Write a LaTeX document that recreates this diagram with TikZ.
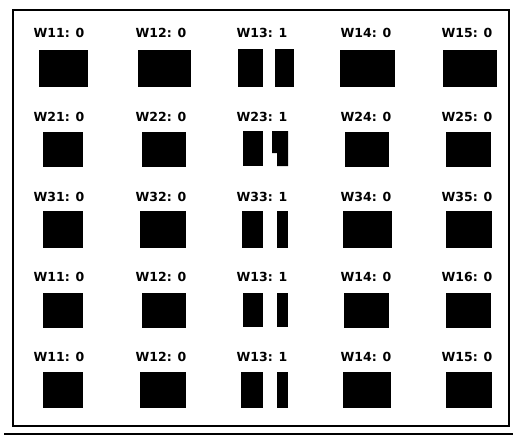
\documentclass[tikz,border=0pt]{standalone}
\usepackage{fontspec}
\setmainfont{DejaVu Sans}
\begin{document}
\begin{tikzpicture}[x=1pt,y=-1pt,
  lbl/.style={inner sep=0pt, font=\fontsize{12.5}{12.5}\selectfont\bfseries, anchor=center},
  frameline/.style={line width=1.7pt, black},
  blk/.style={fill=black}]
\useasboundingbox (0,0) rectangle (513,436);
% frame
\draw[frameline] (13,10) rectangle (509,426);
\draw[line width=2pt] (4,434) -- (513,434);
% labels
\foreach \r/\y/\a/\b/\c/\d/\e in {1/33/W11: 0/W12: 0/W13: 1/W14: 0/W15: 0,
                                   2/117/W21: 0/W22: 0/W23: 1/W24: 0/W25: 0,
                                   3/197/W31: 0/W32: 0/W33: 1/W34: 0/W35: 0,
                                   4/277/W11: 0/W12: 0/W13: 1/W14: 0/W16: 0,
                                   5/357/W11: 0/W12: 0/W13: 1/W14: 0/W15: 0}{
  \node[lbl] (l\r a) at (59,\y) {\a};
  \node[lbl] (l\r b) at (161,\y) {\b};
  \node[lbl] (l\r c) at (262,\y) {\c};
  \node[lbl] (l\r d) at (366,\y) {\d};
  \node[lbl] (l\r e) at (467,\y) {\e};
}
% row 1
\fill[blk] (39,50) rectangle (88,87);
\fill[blk] (138,50) rectangle (191,87);
\fill[blk] (238,49) rectangle (263,87);
\fill[blk] (275,49) rectangle (294,87);
\fill[blk] (340,50) rectangle (395,87);
\fill[blk] (443,50) rectangle (497,87);
% row 2
\fill[blk] (43,132) rectangle (83,167);
\fill[blk] (142,132) rectangle (186,167);
\fill[blk] (243,131) rectangle (263,166);
\fill[blk] (272,131) -- (288,131) -- (288,166) -- (277,166) -- (277,153) -- (272,153) -- cycle;
\fill[blk] (345,132) rectangle (389,167);
\fill[blk] (446,132) rectangle (491,167);
% row 3
\fill[blk] (43,211) rectangle (83,248);
\fill[blk] (140,211) rectangle (186,248);
\fill[blk] (242,211) rectangle (263,248);
\fill[blk] (277,211) rectangle (288,248);
\fill[blk] (343,211) rectangle (392,248);
\fill[blk] (446,211) rectangle (492,248);
% row 4
\fill[blk] (43,293) rectangle (83,328);
\fill[blk] (142,293) rectangle (186,328);
\fill[blk] (243,293) rectangle (263,327);
\fill[blk] (277,293) rectangle (288,327);
\fill[blk] (344,293) rectangle (389,328);
\fill[blk] (446,293) rectangle (491,328);
% row 5
\fill[blk] (43,372) rectangle (83,408);
\fill[blk] (140,372) rectangle (186,408);
\fill[blk] (241,372) rectangle (263,408);
\fill[blk] (277,372) rectangle (288,408);
\fill[blk] (343,372) rectangle (391,408);
\fill[blk] (446,372) rectangle (492,408);
\end{tikzpicture}
\end{document}
